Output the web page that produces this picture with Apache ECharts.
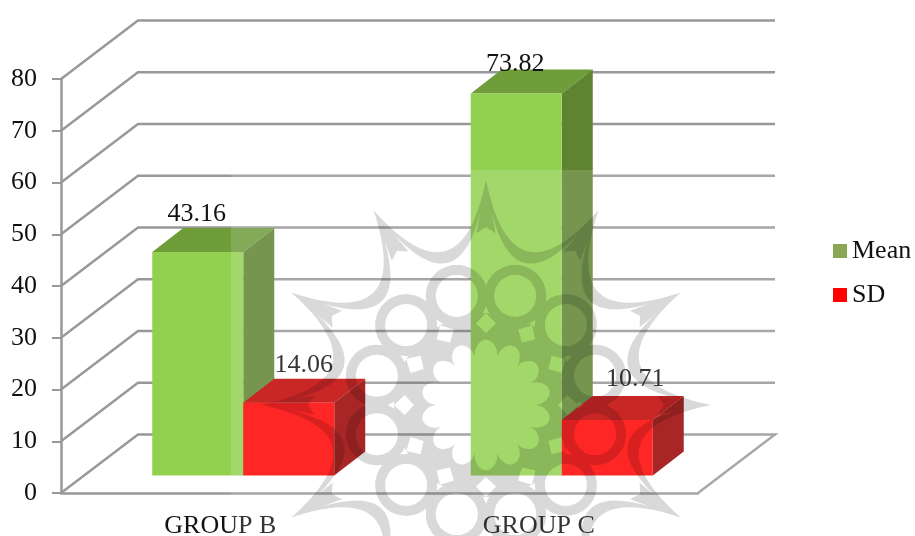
<!DOCTYPE html>
<html><head><meta charset="utf-8">
<script src="https://cdn.jsdelivr.net/npm/echarts@6/dist/echarts.min.js"></script>
<style>html,body{margin:0;padding:0;background:#fff}#c{width:915px;height:536px}</style>
</head><body><div id="c"></div>
<script>
const categories = ['GROUP B', 'GROUP C'];
const meanValues = [43.16, 73.82];
const sdValues = [14.06, 10.71];
const yTicks = [0, 10, 20, 30, 40, 50, 60, 70, 80];

const FONT = '"Liberation Serif","Times New Roman",serif';
const WALL = [77, -58.5], INSET = [23, -17.6], DEPTH = [31, -24], BAR_W = 91;
const LINE = '#989898';

function box(l, r, top, bot, cols){
  const dx = DEPTH[0], dy = DEPTH[1];
  return [
    {type:'polygon',shape:{points:[[l,top],[r,top],[r+dx,top+dy],[l+dx,top+dy]]},style:{fill:cols.top}},
    {type:'polygon',shape:{points:[[r,top],[r+dx,top+dy],[r+dx,bot+dy],[r,bot]]},style:{fill:cols.side}},
    {type:'polygon',shape:{points:[[l,top],[r,top],[r,bot],[l,bot]]},style:{fill:cols.front}}
  ];
}
function barRender(dir, cols, shifts){
  return function(params, api){
    const i = api.value(0), v = api.value(1);
    const base = api.coord([i, 0]), head = api.coord([i, v]);
    const mid = base[0] + INSET[0];
    const l = dir < 0 ? mid - BAR_W : mid, r = dir < 0 ? mid : mid + BAR_W;
    const top = head[1] + INSET[1], bot = base[1] + INSET[1];
    const s = shifts[i];
    return {type:'group',children: box(l,r,top,bot,cols).concat([
      {type:'text',style:{text:v.toFixed(2),x:(l+r)/2+s[0],y:top+s[1],fill:'#111',
        font:'26px '+FONT,textAlign:'center',textVerticalAlign:'middle'}}
    ])};
  };
}
function wallRender(params, api){
  const v = api.value(1);
  const cs = params.coordSys;
  const y = api.coord([0, v])[1];
  const a = [cs.x, y], b = [cs.x+WALL[0], y+WALL[1]], c = [cs.x+cs.width+WALL[0], y+WALL[1]];
  const line = v === 0 ? [a,b,c,[cs.x+cs.width,y]] : [a,b,c];
  return {type:'polyline',shape:{points:line},style:{stroke:LINE,lineWidth:2.4,fill:null}};
}

/* decorative seal that lies over the whole chart */
function circle(cx,cy,r,rev){
  let s='';
  for(let k=0;k<=48;k++){
    const t=(rev?-1:1)*k/48*Math.PI*2;
    s+=(k?'L':'M')+(cx+r*Math.cos(t)).toFixed(1)+' '+(cy+r*Math.sin(t)).toFixed(1);
  }
  return s+'Z';
}
function sealPath(cx,cy){
  const P=(r,deg)=>{const t=deg*Math.PI/180;return [cx+r*Math.sin(t),cy-r*Math.cos(t)];};
  const poly=list=>list.map((p,n)=>(n?'L':'M')+p[0].toFixed(1)+' '+p[1].toFixed(1)).join('')+'Z';
  let d='M0 0L0 0M915 800L915 800';
  const TIP=225;
  for(let k=0;k<12;k++){
    const a=30*k,b=a+30,m=a+15;
    const A=P(TIP,a),B=P(TIP,b);
    const c1=P(2*159-217,m),c2=P(2*147-217,m);
    let out=[],back=[];
    for(let j=0;j<=24;j++){
      const t=j/24,u=1-t;
      out.push([u*u*A[0]+2*u*t*c1[0]+t*t*B[0],u*u*A[1]+2*u*t*c1[1]+t*t*B[1]]);
      back.push([u*u*B[0]+2*u*t*c2[0]+t*t*A[0],u*u*B[1]+2*u*t*c2[1]+t*t*A[1]]);
    }
    d+=poly(out.concat(back));
    d+=poly([P(TIP,a),P(172,a+3.2),P(178,a),P(172,a-3.2)]);
    const C=P(113,m);
    d+=circle(C[0],C[1],31,false)+circle(C[0],C[1],21,true);
  }
  /* dark annulus with lozenge holes and a petalled flower hole */
  d+=circle(cx,cy,92,false);
  for(let k=0;k<12;k++){
    const a=30*k, r=82, h=10;
    const off=h/r*180/Math.PI;
    d+=poly([P(r+h,a),P(r,a-off),P(r-h,a),P(r,a+off)]);
  }
  const flower=[];
  for(let j=0;j<=280;j++){
    const t=-j/280*360, rr=50+15*Math.pow(Math.abs(Math.cos(7*t*Math.PI/180)),0.6);
    flower.push(P(rr,t));
  }
  return d+poly(flower);
}
const SEAL = sealPath(486,405);
function sealRender(){
  return {type:'group',children:[
    {type:'rect',shape:{x:231,y:170,width:544,height:366},style:{fill:'rgba(255,255,255,0.15)'}},
    {type:'path',shape:{pathData:SEAL,x:0,y:0,width:915,height:800},style:{fill:'rgba(0,0,0,0.15)'}}
  ]};
}

const chart = echarts.init(document.getElementById('c'), null, {renderer:'canvas'});
chart.setOption({
  animation:false,
  backgroundColor:'#fff',
  grid:{left:61,top:79,width:637,height:414,containLabel:false,outerBoundsMode:'none'},
  legend:{orient:'vertical',left:828,top:233,itemWidth:14,itemHeight:14,itemGap:18,
    icon:'rect',data:['Mean','SD'],textStyle:{fontFamily:FONT,fontSize:26,color:'#111',padding:[0,0,0,0]}},
  xAxis:{type:'category',data:categories,
    axisLine:{show:true,lineStyle:{color:LINE,width:2.5}},axisTick:{show:false},
    axisLabel:{fontFamily:FONT,fontSize:26,color:'#111',margin:20},splitLine:{show:false}},
  yAxis:{type:'value',min:0,max:80,interval:10,
    axisLine:{show:true,lineStyle:{color:LINE,width:2.5}},
    axisTick:{show:true,length:9,lineStyle:{color:LINE,width:2}},
    axisLabel:{fontFamily:FONT,fontSize:26,color:'#111',margin:24,padding:[6,0,0,0],
      verticalAlignMaxLabel:'middle',verticalAlignMinLabel:'middle'},splitLine:{show:false}},
  series:[
    {name:'walls',type:'custom',coordinateSystem:'cartesian2d',renderItem:wallRender,
      data:yTicks.map(v=>[0,v]),encode:{x:0,y:1},silent:true,z:1},
    {name:'Mean',type:'custom',coordinateSystem:'cartesian2d',z:3,
      renderItem:barRender(-1,{front:'#92D050',top:'#6E9D3A',side:'#5E8431'},[[-1,-38],[-1,-29]]),
      itemStyle:{color:'#8BA755'},encode:{x:0,y:1},
      data:categories.map((c,i)=>[i,meanValues[i]])},
    {name:'SD',type:'custom',coordinateSystem:'cartesian2d',z:4,
      renderItem:barRender(1,{front:'#FF0000',top:'#C00000',side:'#9A0000'},[[15,-37],[28,-41]]),
      itemStyle:{color:'#FF0000'},encode:{x:0,y:1},
      data:categories.map((c,i)=>[i,sdValues[i]])},
    {name:'seal',type:'custom',coordinateSystem:'cartesian2d',z:50,silent:true,
      renderItem:sealRender,data:[[0,0]],encode:{x:0,y:1}}
  ]
});
</script></body></html>
